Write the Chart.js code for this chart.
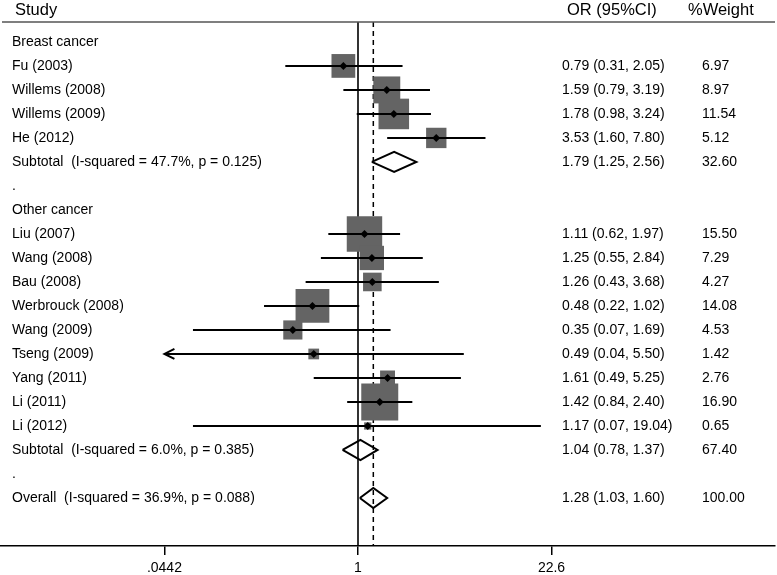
<!DOCTYPE html>
<html>
<head>
<meta charset="UTF-8">
<script src="https://cdn.jsdelivr.net/npm/chart.js"></script>
<style>
  html, body { margin: 0; padding: 0; background: #fff; overflow: hidden; }
</style>
</head>
<body>
<canvas id="forest" width="777" height="575"></canvas>
<script>
// one entry per row of the forest plot, top to bottom
const rowLabels = [
  'Breast cancer',
  'Fu (2003)',
  'Willems (2008)',
  'Willems (2009)',
  'He (2012)',
  'Subtotal  (I-squared = 47.7%, p = 0.125)',
  '.',
  'Other cancer',
  'Liu (2007)',
  'Wang (2008)',
  'Bau (2008)',
  'Werbrouck (2008)',
  'Wang (2009)',
  'Tseng (2009)',
  'Yang (2011)',
  'Li (2011)',
  'Li (2012)',
  'Subtotal  (I-squared = 6.0%, p = 0.385)',
  '.',
  'Overall  (I-squared = 36.9%, p = 0.088)'
];
const rowType = ['head', 'study', 'study', 'study', 'study', 'pooled', 'blank',
  'head', 'study', 'study', 'study', 'study', 'study', 'study', 'study', 'study', 'study', 'pooled', 'blank', 'pooled'];
const oddsRatio = [null, 0.79, 1.59, 1.78, 3.53, 1.79, null,
  null, 1.11, 1.25, 1.26, 0.48, 0.35, 0.49, 1.61, 1.42, 1.17, 1.04, null, 1.28];
const ciLower = [null, 0.31, 0.79, 0.98, 1.60, 1.25, null,
  null, 0.62, 0.55, 0.43, 0.22, 0.07, 0.04, 0.49, 0.84, 0.07, 0.78, null, 1.03];
const ciUpper = [null, 2.05, 3.19, 3.24, 7.80, 2.56, null,
  null, 1.97, 2.84, 3.68, 1.02, 1.69, 5.50, 5.25, 2.40, 19.04, 1.37, null, 1.60];
const weightPct = [null, 6.97, 8.97, 11.54, 5.12, 32.60, null,
  null, 15.50, 7.29, 4.27, 14.08, 4.53, 1.42, 2.76, 16.90, 0.65, 67.40, null, 100.00];

const xTicks = [0.0442, 1, 22.6];
const xTickLabels = ['.0442', '1', '22.6'];

// axis ranges (log x so that 1 sits at the reference position, rows on y)
const xMin = 0.003125, xMax = 828;
const yMin = 0.17, yMax = 22;
const boxScale = 9.0;      // square side in px per sqrt(weight)
const diamondHalf = 0.42;  // half height of pooled diamonds, in rows

const FONT = '"Liberation Sans", Arial, Helvetica, sans-serif';
Chart.defaults.font.family = FONT;

const rowOf = i => i + 1;
const studies = rowLabels.map((_, i) => i).filter(i => rowType[i] === 'study');
const pooled = rowLabels.map((_, i) => i).filter(i => rowType[i] === 'pooled');
const overallOR = oddsRatio[oddsRatio.length - 1];
const clipLo = xTicks[0], clipHi = xTicks[xTicks.length - 1];

const datasets = [];

// point estimate markers
datasets.push({
  type: 'scatter', order: 0,
  data: studies.map(i => ({ x: oddsRatio[i], y: rowOf(i) })),
  pointStyle: 'rectRot', pointRadius: 4,
  backgroundColor: '#000', borderWidth: 0
});

// confidence interval lines
studies.forEach(i => {
  datasets.push({
    type: 'line', order: 1,
    data: [
      { x: Math.max(ciLower[i], clipLo), y: rowOf(i) },
      { x: Math.min(ciUpper[i], clipHi), y: rowOf(i) }
    ],
    borderColor: '#000', borderWidth: 2, pointRadius: 0
  });
});

// pooled diamonds
pooled.forEach(i => {
  const r = rowOf(i);
  datasets.push({
    type: 'line', order: 2,
    data: [
      { x: ciLower[i], y: r },
      { x: oddsRatio[i], y: r - diamondHalf },
      { x: ciUpper[i], y: r },
      { x: oddsRatio[i], y: r + diamondHalf },
      { x: ciLower[i], y: r }
    ],
    borderColor: '#000', borderWidth: 2, pointRadius: 0,
    borderJoinStyle: 'miter', fill: false
  });
});

// weight squares
datasets.push({
  type: 'scatter', order: 3,
  data: studies.map(i => ({ x: oddsRatio[i], y: rowOf(i) })),
  pointStyle: 'rect',
  pointRadius: studies.map(i => boxScale * Math.sqrt(weightPct[i]) / Math.SQRT2),
  backgroundColor: '#646464', borderWidth: 0
});

// null line and overall estimate line
datasets.push({
  type: 'line', order: 4,
  data: [{ x: 1, y: yMin }, { x: 1, y: yMax }],
  borderColor: '#000', borderWidth: 1.6, pointRadius: 0
});
datasets.push({
  type: 'line', order: 4,
  data: [{ x: overallOR, y: yMin }, { x: overallOR, y: yMax }],
  borderColor: '#000', borderWidth: 1.5, borderDash: [5, 4], pointRadius: 0
});

const tablePlugin = {
  id: 'forestTable',
  afterDatasetsDraw(chart) {
    const { ctx, scales: { x, y } } = chart;
    ctx.save();
    // arrows for intervals cut at the axis limit
    ctx.strokeStyle = '#000';
    ctx.lineWidth = 2;
    studies.forEach(i => {
      if (ciLower[i] < clipLo) {
        const px = x.getPixelForValue(clipLo), py = y.getPixelForValue(rowOf(i));
        ctx.beginPath();
        ctx.moveTo(px + 10, py - 5);
        ctx.lineTo(px, py);
        ctx.lineTo(px + 10, py + 5);
        ctx.stroke();
      }
      if (ciUpper[i] > clipHi) {
        const px = x.getPixelForValue(clipHi), py = y.getPixelForValue(rowOf(i));
        ctx.beginPath();
        ctx.moveTo(px - 10, py - 5);
        ctx.lineTo(px, py);
        ctx.lineTo(px - 10, py + 5);
        ctx.stroke();
      }
    });
    ctx.restore();
  },
  afterDraw(chart) {
    const { ctx, chartArea, scales: { y } } = chart;
    ctx.save();
    // header
    ctx.strokeStyle = '#555';
    ctx.lineWidth = 1.5;
    ctx.beginPath();
    ctx.moveTo(2, chartArea.top);
    ctx.lineTo(chartArea.right, chartArea.top);
    ctx.stroke();

    ctx.fillStyle = '#000';
    ctx.textBaseline = 'middle';
    ctx.textAlign = 'left';
    ctx.font = '16.5px ' + FONT;
    ctx.fillText('Study', 15, chartArea.top - 12);
    ctx.fillText('OR (95%CI)', 567, chartArea.top - 12);
    ctx.fillText('%Weight', 688, chartArea.top - 12);

    // rows
    ctx.font = '14px ' + FONT;
    rowLabels.forEach((lab, i) => {
      const py = y.getPixelForValue(rowOf(i));
      ctx.fillText(lab, 12, py);
      if (oddsRatio[i] != null) {
        const txt = oddsRatio[i].toFixed(2) + ' (' + ciLower[i].toFixed(2) + ', ' + ciUpper[i].toFixed(2) + ')';
        ctx.fillText(txt, 562, py);
        ctx.fillText(weightPct[i].toFixed(2), 702, py);
      }
    });
    ctx.restore();
  }
};

new Chart(document.getElementById('forest'), {
  type: 'scatter',
  data: { datasets },
  options: {
    responsive: false,
    animation: false,
    devicePixelRatio: 1,
    layout: { autoPadding: false, padding: { top: 22, right: 2, left: 0, bottom: -6 } },
    plugins: { legend: { display: false }, tooltip: { enabled: false } },
    scales: {
      x: {
        type: 'logarithmic',
        min: xMin, max: xMax,
        afterBuildTicks: s => { s.ticks = xTicks.map(v => ({ value: v })); },
        afterFit: s => { s.paddingLeft = 0; s.paddingRight = 0; },
        ticks: {
          autoSkip: false, maxRotation: 0,
          color: '#000', font: { size: 14 }, padding: 4.6,
          callback: (v, idx) => xTickLabels[idx]
        },
        grid: { display: true, drawOnChartArea: false, drawTicks: true, tickLength: 9, color: '#000', lineWidth: 1.5 },
        border: { display: true, color: '#000', width: 1.5 }
      },
      y: {
        type: 'linear', reverse: true,
        min: yMin, max: yMax,
        display: false
      }
    }
  },
  plugins: [tablePlugin]
});
</script>
</body>
</html>
